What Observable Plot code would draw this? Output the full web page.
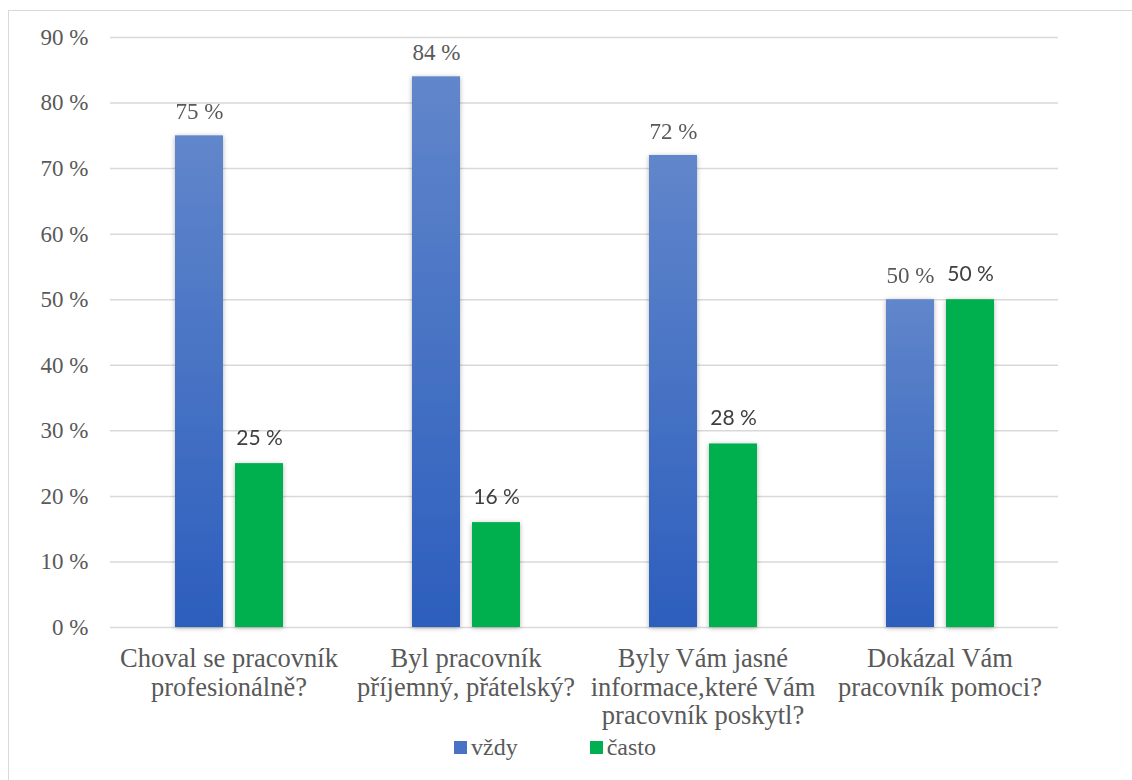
<!DOCTYPE html>
<html>
<head>
<meta charset="utf-8">
<script src="https://cdn.jsdelivr.net/npm/d3@7"></script>
<script src="https://cdn.jsdelivr.net/npm/@observablehq/plot@0.6"></script>
<style>
  html, body { margin: 0; padding: 0; background: #fff; width: 1132px; height: 780px; overflow: hidden; }
  #frame { position: absolute; left: 8px; top: 10px; width: 1200px; height: 900px; border: 1px solid #d9d9d9; box-sizing: border-box; }
  #chart { position: absolute; left: 0; top: 0; }
  #chart svg text { font-family: "Liberation Serif", "Times New Roman", serif; }
  #chart svg g.sans text { font-family: Lato, "Open Sans", sans-serif; }
  #legend { position: absolute; left: 454px; top: 734px; display: flex; align-items: center;
            font-family: "Liberation Serif", "Times New Roman", serif; font-size: 24px; color: #595959; }
  .item { display: flex; align-items: center; }
  .swatch { width: 13px; height: 13px; margin-right: 4px; }
</style>
</head>
<body>
<div id="frame"></div>
<div id="chart"></div>
<div id="legend"></div>
<script>
// Survey questions (x categories) and answer shares in percent
const questions = [
  "Choval se pracovník\nprofesionálně?",
  "Byl pracovník\npříjemný, přátelský?",
  "Byly Vám jasné\ninformace,které Vám\npracovník poskytl?",
  "Dokázal Vám\npracovník pomoci?"
];
const seriesNames = ["vždy", "často"];
const vzdy = [75, 84, 72, 50];
const casto = [25, 16, 28, 50];
const yTicks = [0, 10, 20, 30, 40, 50, 60, 70, 80, 90];
const seriesColors = ["url(#vzdyGrad)", "#00b050"];
const legendColors = ["#4a72c4", "#00b050"];

const rows = questions.flatMap((q, i) => [
  {question: q, series: seriesNames[0], value: vzdy[i]},
  {question: q, series: seriesNames[1], value: casto[i]}
]);

const textColor = "#595959";

const chart = Plot.plot({
  width: 1132,
  height: 740,
  marginLeft: 110,
  marginRight: 74,
  marginTop: 37,
  marginBottom: 113,
  style: {fontSize: "23px", color: textColor, background: "transparent"},
  fx: {domain: questions, padding: 0, label: null},
  x: {domain: seriesNames, paddingInner: 0.2, paddingOuter: 1.075, axis: null},
  y: {domain: [0, 90], label: null},
  color: {domain: seriesNames, range: seriesColors},
  marks: [
    Plot.gridY(yTicks, {stroke: "#d9d9d9", strokeOpacity: 1, strokeWidth: 1.5}),
    Plot.axisY(yTicks, {
      tickFormat: d => `${d} %`, tickSize: 0, tickPadding: 22,
      fontSize: 23, fill: textColor, label: null
    }),
    Plot.axisFx({
      anchor: "bottom", tickSize: 0, tickPadding: 20, fontSize: 26.5, lineHeight: 1.06,
      fill: textColor, label: null
    }),
    Plot.barY(rows, {fx: "question", x: "series", y: "value", fill: "series"}),
    Plot.text(rows.filter(d => d.series === seriesNames[0]), {
      fx: "question", x: "series", y: "value", text: d => `${d.value} %`,
      lineAnchor: "bottom", dy: -17, fontSize: 23, fill: textColor
    }),
    Plot.text(rows.filter(d => d.series === seriesNames[1]), {
      fx: "question", x: "series", y: "value", text: d => `${d.value} %`,
      lineAnchor: "bottom", dy: -19, fontSize: 21, fill: "#404040"
    })
  ]
});

// Gradient fill for the "vždy" bars and a soft shadow under every bar
const svg = d3.select(chart);
const defs = svg.insert("defs", ":first-child");
const grad = defs.append("linearGradient")
  .attr("id", "vzdyGrad").attr("x1", 0).attr("y1", 0).attr("x2", 0).attr("y2", 1);
grad.append("stop").attr("offset", "0%").attr("stop-color", "#6186cb");
grad.append("stop").attr("offset", "100%").attr("stop-color", "#2c5ebd");
const shadow = defs.append("filter").attr("id", "barShadow")
  .attr("x", "-30%").attr("y", "-5%").attr("width", "160%").attr("height", "110%");
shadow.append("feDropShadow").attr("dx", 0).attr("dy", 1).attr("stdDeviation", 2.5)
  .attr("flood-color", "#000").attr("flood-opacity", 0.3);
svg.selectAll('g[aria-label="bar"]').attr("filter", "url(#barShadow)");
// "často" value labels (the last text mark) use a sans-serif face
const textMarks = svg.selectAll(':scope > g[aria-label="text"]').nodes();
if (textMarks.length) d3.select(textMarks[textMarks.length - 1]).classed("sans", true);

document.getElementById("chart").appendChild(chart);

// Legend below the bars
const legend = d3.select("#legend");
seriesNames.forEach((name, i) => {
  const item = legend.append("div").attr("class", "item")
    .style("margin-right", i === 0 ? "72px" : "0");
  item.append("div").attr("class", "swatch").style("background", legendColors[i]);
  item.append("span").text(name);
});
</script>
</body>
</html>
